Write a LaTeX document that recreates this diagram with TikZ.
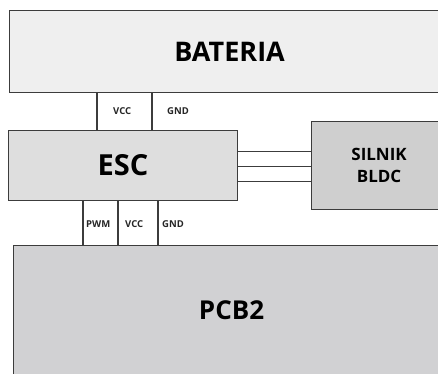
\documentclass[tikz,border=0pt]{standalone}
\usepackage{fontspec}
\setmainfont{Open Sans}
\usetikzlibrary{positioning}
\definecolor{batfill}{HTML}{EFEFEF}
\definecolor{escfill}{HTML}{DEDEDE}
\definecolor{motfill}{HTML}{CFCFCF}
\definecolor{pcbfill}{HTML}{D1D1D3}
\definecolor{edge}{HTML}{3C3C3C}
\tikzset{
    blok/.style={draw=edge, line width=1.1pt, inner sep=0pt, anchor=north west, text=black},
    wire/.style={draw=edge, line width=1.1pt},
    pin/.style={font=\bfseries\fontsize{9.5}{10}\selectfont, text=black!85, anchor=west, inner sep=1pt}
}
\begin{document}
\begin{tikzpicture}[x=1pt,y=-1pt]  % one unit = one pixel, y downwards
    \useasboundingbox (0,0) rectangle (438,373);
    \clip (0,0) rectangle (438,373);
    % Blocks
    \node[blok, fill=batfill, minimum width=440pt, minimum height=82pt,
          font=\bfseries\fontsize{27}{30}\selectfont] (bat) at (9,10) {BATERIA};
    \node[blok, fill=escfill, minimum width=229pt, minimum height=70pt,
          font=\bfseries\fontsize{29}{32}\selectfont] (esc) at (8,130) {ESC};
    \node[blok, fill=motfill, minimum width=135pt, minimum height=88pt, align=center,
          font=\bfseries\fontsize{17}{22}\selectfont] (mot) at (311,121) {SILNIK\\BLDC};
    \node[blok, fill=pcbfill, minimum width=436pt, minimum height=130pt,
          font=\bfseries\fontsize{26}{30}\selectfont] (pcb) at (13,245) {PCB2};
    % Battery supply lines
    \foreach \dx/\k in {89/1, 144/2} {
        \coordinate[right=\dx pt of esc.north west] (b\k);
        \draw[wire] (b\k) -- (b\k |- bat.south);
    }
    % Lines down to PCB2
    \foreach \dx/\k in {75/1, 110/2, 150/3} {
        \coordinate[right=\dx pt of esc.south west] (p\k);
        \draw[wire] (p\k) -- (p\k |- pcb.north);
    }
    % Three motor phases
    \foreach \dy/\k in {14/1, -1/2, -16/3} {
        \coordinate (m\k) at ([yshift=\dy pt]esc.east);
        \draw[wire] (m\k) -- (m\k -| mot.west);
    }
    % Pin labels
    \node[pin] (vcca) at (112,111) {VCC};
    \node[pin] (gnda) at (166,111) {GND};
    \node[pin] (pwm) at (85,224) {PWM};
    \node[pin] (vccb) at (124,224) {VCC};
    \node[pin] (gndb) at (161,224) {GND};
\end{tikzpicture}
\end{document}
